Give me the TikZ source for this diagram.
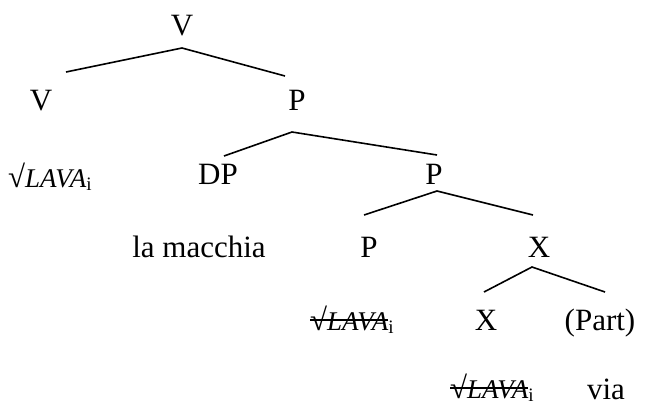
\documentclass[tikz,border=0pt]{standalone}
\usepackage{fontspec}
\setmainfont{Liberation Serif}
% root symbol with the italic verb name
\newcommand\lavaroot{{\fontsize{31}{36}\selectfont √\fontsize{27}{32}\selectfont\textit{LAVA}}}
\newcommand\idx{\raisebox{-3pt}{\fontsize{19}{22}\selectfont i}}
% struck-through copy of the root
\newcommand\lavacopy{\setbox0\hbox{\lavaroot}\rlap{\rule[9.5pt]{\wd0}{1.8pt}}\box0}
\tikzset{
  lab/.style={inner sep=0pt, anchor=base, font=\fontsize{31}{37}\selectfont},
  rootlab/.style={inner sep=0pt, anchor=base west},
  branch/.style={line width=1.6pt, line join=miter}
}
\begin{document}
\begin{tikzpicture}[x=1pt, y=-1pt]
\useasboundingbox (0,0) rectangle (666,407);
% category labels
\node[lab] (v0) at (182,35) {V};
\node[lab] (v1) at (41,110) {V};
\node[lab] (p1) at (297,110) {P};
\node[rootlab] (r1) at (8,187) {\lavaroot\idx};
\node[lab] (dp) at (218,184) {DP};
\node[lab] (p2) at (434,184) {P};
\node[lab] (lm) at (199,257) {la macchia};
\node[lab] (p3) at (369,257) {P};
\node[lab] (x1) at (539,257) {X};
\node[rootlab] (r2) at (310,330) {\lavacopy\idx};
\node[lab] (x2) at (486,330) {X};
\node[lab] (part) at (600,330) {(Part)};
\node[rootlab] (r3) at (450,398) {\lavacopy\idx};
\node[lab] (via) at (606,399) {via};
% branch points
\coordinate (a0) at (182,48);
\coordinate (a0l) at (66,72);
\coordinate (a0r) at (285,76);
\coordinate (a1) at (292,132);
\coordinate (a1l) at (224,156);
\coordinate (a1r) at (437,155);
\coordinate (a2) at (437,191);
\coordinate (a2l) at (364,215);
\coordinate (a2r) at (533,215);
\coordinate (a3) at (532,267);
\coordinate (a3l) at (484,292);
\coordinate (a3r) at (605,292);
% branches
\draw[branch] (a0l) -- (a0) -- (a0r);
\draw[branch] (a1l) -- (a1) -- (a1r);
\draw[branch] (a2l) -- (a2) -- (a2r);
\draw[branch] (a3l) -- (a3) -- (a3r);
\end{tikzpicture}
\end{document}
